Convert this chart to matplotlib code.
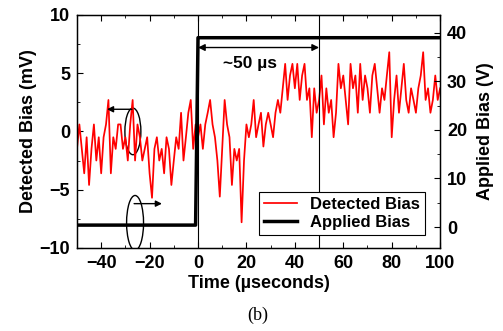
import matplotlib.pyplot as plt
from matplotlib.patches import Ellipse
from matplotlib.ticker import MultipleLocator

plt.rcParams['font.family'] = ['Liberation Sans', 'DejaVu Sans']
plt.rcParams['font.weight'] = 'bold'

# detected bias (mV), one sample per microsecond
time_us = list(range(-50, 101))
detected_mv = [
    # -50 .. -26
    -1.5, 0.6, -1.5, -3.6, -0.5, -4.6, -1.5, 0.6, -2.5, -0.5,
    -3.6, -0.5, 0.6, 2.7, -3.6, -0.5, -1.5, 0.6, 0.6, -1.5,
    -0.5, -2.5, 0.6, 2.7, -2.5,
    # -25 .. -1
    0.6, -0.5, -2.5, -1.5, -0.5, -3.6, -5.7, -1.5, -0.5, -2.5,
    -1.5, -3.6, -0.5, -1.5, -4.6, -2.5, -0.5, -1.5, 1.6, -2.5,
    -0.5, 1.6, 2.7, -1.5, 0.6,
    # 0 .. 26
    -0.5, 0.6, -1.5, 0.6, 1.6, 2.7, 0.6, -0.5, -2.5, -5.6,
    -1.5, 2.7, 0.6, -0.5, -4.6, -1.5, -2.5, -1.5, -7.8, -2.5,
    0.6, -0.5, 0.6, 2.7, -0.5, 0.6, 1.6,
    # 27 .. 50
    -1.3, 0.6, 1.6, 0.6, -0.5, 1.6, 2.7, 1.6, 3.7, 5.8,
    2.7, 4.8, 5.8, 3.7, 5.8, 2.7, 4.8, 5.8, 2.7, 3.7,
    -0.5, 3.7, 1.6, 2.7,
    # 51 .. 76
    4.8, 0.6, 3.7, 1.6, 2.7, -0.5, 1.6, 5.8, 3.7, 4.8,
    2.7, 0.6, 5.8, 3.7, 4.8, 1.6, 5.8, 2.7, 4.8, 3.7,
    1.6, 4.8, 5.8, 3.7, 1.6, 3.7,
    # 77 .. 100
    2.7, 4.8, 6.8, -0.5, 2.7, 4.8, 1.6, 3.7, 5.8, 2.7,
    1.6, 3.7, 2.7, 1.6, 3.7, 4.8, 6.8, 2.7, 3.7, 1.6,
    2.7, 4.8, 2.7, 3.7,
]

# applied bias (V)
time_applied = [-50, -1, 0, 100]
applied_v = [0.4, 0.4, 39, 39]

fig = plt.figure(figsize=(5.03, 3.31), dpi=100)
ax = fig.add_axes([0.153, 0.251, 0.722, 0.704])
ax2 = ax.twinx()

l1, = ax.plot(time_us, detected_mv, color='#ff0000', lw=1.25, label='Detected Bias')
l2, = ax2.plot(time_applied, applied_v, color='black', lw=2.5, label='Applied Bias')

ax.set_xlim(-50, 100)
ax.set_ylim(-10, 10)
ax2.set_ylim(-4.3, 43.7)

ax.xaxis.set_major_locator(MultipleLocator(20))
ax.xaxis.set_minor_locator(MultipleLocator(10))
ax.yaxis.set_major_locator(MultipleLocator(5))
ax.yaxis.set_minor_locator(MultipleLocator(2.5))
ax2.yaxis.set_major_locator(MultipleLocator(10))
ax2.yaxis.set_minor_locator(MultipleLocator(5))

ax.tick_params(which='both', direction='in', top=True, labelsize=13, pad=5)
ax.tick_params(which='major', length=4)
ax.tick_params(which='minor', length=2)
ax2.tick_params(which='both', direction='in', labelsize=13, pad=5)
ax2.tick_params(which='major', length=4)
ax2.tick_params(which='minor', length=2)
for spine in ax.spines.values():
    spine.set_linewidth(1.0)

ax.set_xlabel('Time (\u00b5seconds)', fontsize=13, fontweight='bold', labelpad=2)
ax.set_ylabel('Detected Bias (mV)', fontsize=13, fontweight='bold', labelpad=2)
ax2.set_ylabel('Applied Bias (V)', fontsize=13, fontweight='bold', labelpad=7)

# markers at t=0 and t=50 with the delay arrow
ax.axvline(0, color='black', lw=0.8)
ax.axvline(50, color='black', lw=0.8)
ax.annotate('', xy=(0, 7.2), xytext=(50, 7.2),
            arrowprops=dict(arrowstyle='<|-|>', color='black', lw=1.0,
                            mutation_scale=10, shrinkA=0, shrinkB=0))
ax.text(21.5, 5.8, '~50 \u00b5s', ha='center', va='center', fontsize=12.5, fontweight='bold')

# ellipses pointing to the axis of each curve
ax.add_patch(Ellipse((-26.9, 0.0), 6.6, 4.0, fill=False, color='black', lw=1.0))
ax.annotate('', xy=(-37.6, 1.9), xytext=(-27.3, 1.9),
            arrowprops=dict(arrowstyle='-|>', color='black', lw=1.0,
                            mutation_scale=9, shrinkA=0, shrinkB=0))
ax.add_patch(Ellipse((-26.0, -7.85), 7.0, 4.7, fill=False, color='black', lw=1.0))
ax.annotate('', xy=(-14.9, -6.2), xytext=(-26.4, -6.2),
            arrowprops=dict(arrowstyle='-|>', color='black', lw=1.0,
                            mutation_scale=9, shrinkA=0, shrinkB=0))

leg = ax.legend(handles=[l1, l2], loc='lower right', bbox_to_anchor=(0.959, 0.056),
                fontsize=12, frameon=True, fancybox=False, edgecolor='black',
                framealpha=1, borderpad=0.3, handlelength=2.0, labelspacing=0.2,
                borderaxespad=0)
leg.get_frame().set_linewidth(0.8)
leg.set_zorder(5)

fig.text(0.512, 0.048, '(b)', ha='center', va='center', fontsize=13,
         fontweight='normal', family='Liberation Serif')

fig.savefig('out.png', dpi=100)
